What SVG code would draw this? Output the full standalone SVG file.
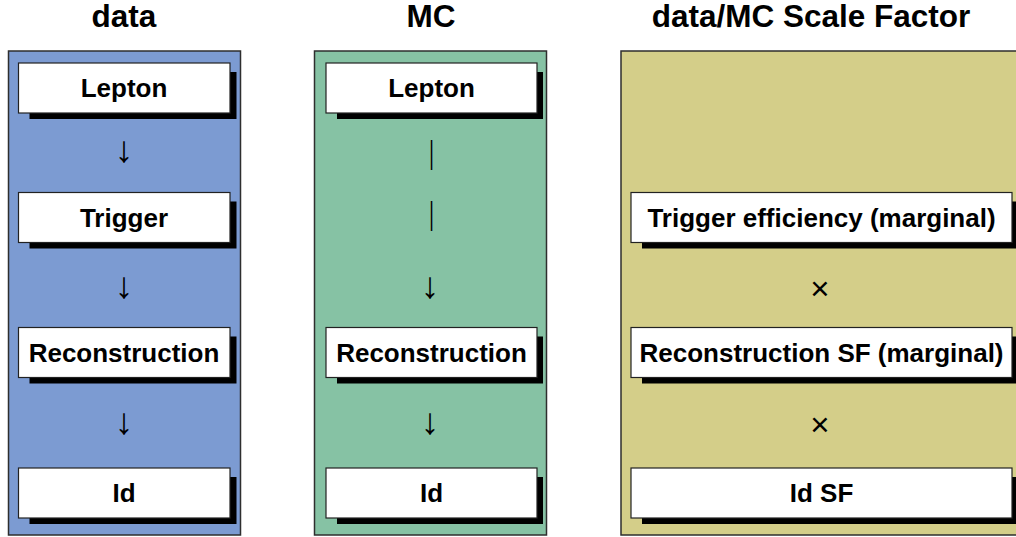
<svg xmlns="http://www.w3.org/2000/svg" width="1016" height="537" viewBox="0 0 1016 537">
<style>
.title{font-family:"Liberation Sans",Arial,sans-serif;font-weight:bold;font-size:31.5px;fill:#000;text-anchor:middle}
.lbl{font-family:"Liberation Sans",Arial,sans-serif;font-weight:bold;font-size:26px;fill:#000;text-anchor:middle}
.arrow{font-family:"Liberation Sans",Arial,sans-serif;font-size:37px;fill:#000;text-anchor:middle}
.bar{font-family:"Liberation Sans",Arial,sans-serif;font-size:32px;fill:#000;text-anchor:middle}
.times{font-family:"Liberation Sans",Arial,sans-serif;font-size:33px;fill:#000;text-anchor:middle}
.panel{stroke:#2e2e2e;stroke-width:1.5}
.box{fill:#fff;stroke:#222;stroke-width:1.2}
.shadow{fill:#000}
</style>
<rect width="1016" height="537" fill="#fff"/>
<g id="titles">
<text class="title" x="124" y="27">data</text>
<text class="title" x="431" y="27">MC</text>
<text class="title" x="811" y="27">data/MC Scale Factor</text>
</g>
<g id="panel-data"><rect class="panel" x="8.5" y="51" width="232" height="484" fill="#7C9BD2"/></g>
<g id="panel-mc"><rect class="panel" x="314.5" y="51" width="232" height="484" fill="#86C2A4"/></g>
<g id="panel-sf"><rect class="panel" x="621" y="51" width="400" height="484" fill="#D4CE89"/></g>

<g id="data-lepton"><rect class="shadow" x="29.5" y="72" width="207" height="47"/><rect class="box" x="18.5" y="63" width="211.5" height="50"/><text class="lbl" x="124" y="97">Lepton</text></g>
<g id="data-trigger"><rect class="shadow" x="29.5" y="201.5" width="207" height="47"/><rect class="box" x="18.5" y="192.5" width="211.5" height="50"/><text class="lbl" x="124" y="226.5">Trigger</text></g>
<g id="data-reco"><rect class="shadow" x="29.5" y="336.5" width="207" height="47"/><rect class="box" x="18.5" y="327.5" width="211.5" height="50"/><text class="lbl" x="124" y="361.5">Reconstruction</text></g>
<g id="data-id"><rect class="shadow" x="29.5" y="477" width="207" height="47"/><rect class="box" x="18.5" y="468" width="211.5" height="50"/><text class="lbl" x="124" y="502">Id</text></g>

<g id="mc-lepton"><rect class="shadow" x="337" y="72" width="206" height="47"/><rect class="box" x="326" y="63" width="211" height="50"/><text class="lbl" x="431.5" y="97">Lepton</text></g>
<g id="mc-reco"><rect class="shadow" x="337" y="336.5" width="206" height="47"/><rect class="box" x="326" y="327.5" width="211" height="50"/><text class="lbl" x="431.5" y="361.5">Reconstruction</text></g>
<g id="mc-id"><rect class="shadow" x="337" y="477" width="206" height="47"/><rect class="box" x="326" y="468" width="211" height="50"/><text class="lbl" x="431.5" y="502">Id</text></g>

<g id="sf-trigger"><rect class="shadow" x="642" y="201.5" width="376" height="47"/><rect class="box" x="631" y="192.5" width="381" height="50"/><text class="lbl" x="821.5" y="226.5">Trigger efficiency (marginal)</text></g>
<g id="sf-reco"><rect class="shadow" x="642" y="336.5" width="376" height="47"/><rect class="box" x="631" y="327.5" width="381" height="50"/><text class="lbl" x="821.5" y="361.5">Reconstruction SF (marginal)</text></g>
<g id="sf-id"><rect class="shadow" x="642" y="477" width="376" height="47"/><rect class="box" x="631" y="468" width="381" height="50"/><text class="lbl" x="821.5" y="502">Id SF</text></g>

<g id="connectors">
<text class="arrow" x="124" y="162">↓</text>
<text class="arrow" x="124" y="297.5">↓</text>
<text class="arrow" x="124" y="434">↓</text>
<text class="bar" x="0" y="163.5" transform="translate(431.5,0) scale(0.55,1)">|</text>
<text class="bar" x="0" y="224.5" transform="translate(431.5,0) scale(0.55,1)">|</text>
<text class="arrow" x="430" y="297.5">↓</text>
<text class="arrow" x="430" y="434">↓</text>
<text class="times" x="820" y="299.5">×</text>
<text class="times" x="820" y="435.5">×</text>
</g>
</svg>
